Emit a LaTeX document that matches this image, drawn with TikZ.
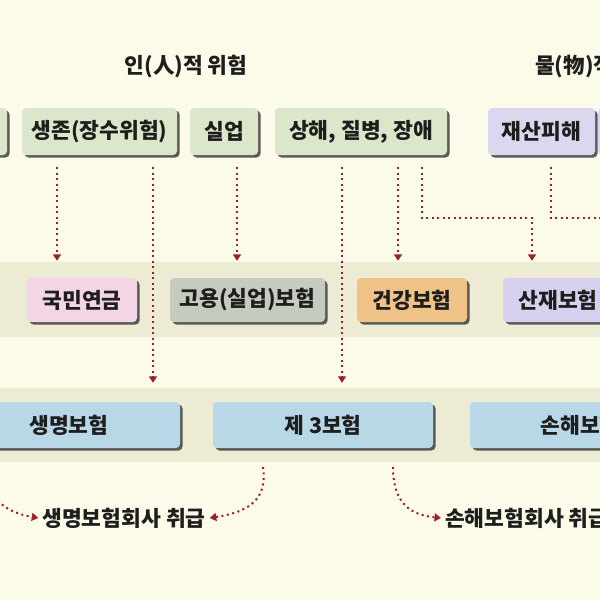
\documentclass[tikz,border=0pt]{standalone}
\usepackage{fontspec}
\newfontfamily\kr{Noto Sans CJK KR}
\usetikzlibrary{arrows.meta,shadows}
\definecolor{bgc}{HTML}{FCFBEA}
\definecolor{bandc}{HTML}{EDEBD4}
\definecolor{riskg}{HTML}{DCE6CA}
\definecolor{riskp}{HTML}{D9D8EE}
\definecolor{pinkc}{HTML}{F4D5E6}
\definecolor{grayc}{HTML}{C6CBBF}
\definecolor{orangec}{HTML}{EFC388}
\definecolor{purplec}{HTML}{D6D1EE}
\definecolor{bluec}{HTML}{B8D8E8}
\definecolor{arrred}{HTML}{9E1E2C}
\definecolor{txt}{HTML}{1E1E1E}
\definecolor{shadowc}{HTML}{4A4A48}
\begin{document}
\begin{tikzpicture}[x=1pt,y=-1pt,
  lbl/.style={text=txt, font=\kr\bfseries\fontsize{21.5}{22}\selectfont, inner sep=0pt},
  box/.style={lbl, rounded corners=4pt, minimum height=#1,
    drop shadow={shadow xshift=2.5pt,shadow yshift=-2.5pt,fill=shadowc,opacity=0.9}},
  box/.default=47pt,
  band/.style={fill=bandc, inner sep=0pt, minimum width=640pt},
  arr/.style={draw=arrred, line width=2pt, dash pattern=on 2pt off 3.5pt,
    -{Triangle[width=8pt,length=6.5pt]}},
  lin/.style={draw=arrred, line width=2pt, dash pattern=on 2pt off 3.5pt}
]
\useasboundingbox (0,0) rectangle (600,600);
\fill[bgc] (0,0) rectangle (600,600);
\clip (0,0) rectangle (600,600);

% titles
\node[lbl] (thuman) at (186,67) {인(人)적 위험};
\node[lbl, anchor=west] (tthing) at (535,67) {물(物)적 위험};

% bands
\node[band, minimum height=75pt] (band1) at (300,299.5) {};
\node[band, minimum height=74pt] (band2) at (300,425) {};

% top risk boxes
\node[box, fill=riskg, minimum width=106pt] (rleft) at (-46,131.5) {};
\node[box, fill=riskg, minimum width=155pt] (surv) at (99.5,131.5) {생존(장수위험)};
\node[box, fill=riskg, minimum width=68pt] (unemp) at (224,131.5) {실업};
\node[box, fill=riskg, minimum width=172pt] (injury) at (361,131.5) {상해, 질병, 장애};
\node[box, fill=riskp, minimum width=107pt] (prop) at (541.5,131.5) {재산피해};
\node[box, fill=riskp, minimum width=102pt] (rright) at (649,131.5) {};

% social insurance boxes
\node[box=44pt, fill=pinkc, minimum width=110pt] (pension) at (82,300) {국민연금};
\node[box=44pt, fill=grayc, minimum width=155pt] (employ) at (247.5,300) {고용(실업)보험};
\node[box=44pt, fill=orangec, minimum width=110pt] (health) at (412,300) {건강보험};
\node[box=44pt, fill=purplec, minimum width=110pt] (indus) at (558,300) {산재보험};

% private insurance boxes
\node[box=46pt, fill=bluec, minimum width=222pt] (life) at (69,425) {생명보험};
\node[box=46pt, fill=bluec, minimum width=220pt] (third) at (323,425) {제 3보험};
\node[box=46pt, fill=bluec, minimum width=220pt] (nonlife) at (580,425) {손해보험};

% bottom labels
\node[lbl] (lifeco) at (124,518) {생명보험회사 취급};
\node[lbl, anchor=west] (nonlifeco) at (445,518) {손해보험회사 취급};

% connector start points
\coordinate (s1) at ([xshift=-42.5pt]surv.south);
\coordinate (s2) at ([xshift=53.5pt]surv.south);
\coordinate (u1) at ([xshift=13pt]unemp.south);
\coordinate (i1) at ([xshift=-19pt]injury.south);
\coordinate (i2) at ([xshift=37pt]injury.south);
\coordinate (i3) at ([xshift=61pt]injury.south);
\coordinate (p1) at ([xshift=9.5pt]prop.south);
\coordinate (j1) at (422,218);
\coordinate (j2) at (532,218);
\coordinate (j3) at (551,218);
\coordinate (j4) at (610,218);

\draw[arr, shorten <=12pt, shorten >=1pt] (s1) -- (s1 |- band1.north);
\draw[arr, shorten <=12pt, shorten >=5pt] (s2) -- (s2 |- band2.north);
\draw[arr, shorten <=12pt, shorten >=1pt] (u1) -- (u1 |- band1.north);
\draw[arr, shorten <=12pt, shorten >=5pt] (i1) -- (i1 |- band2.north);
\draw[arr, shorten <=12pt, shorten >=1pt] (i2) -- (i2 |- band1.north);
\draw[arr, shorten <=12pt, shorten >=1pt] (i3) -- (j1) -- (j2) -- (j2 |- band1.north);
\draw[lin, shorten <=12pt] (p1) -- (j3) -- (j4);

% bottom curved connectors
\coordinate (l1) at (-15,465);
\coordinate (t1) at (263,467);
\coordinate (t2) at (393,467);
\draw[arr] (l1) .. controls (-12,500) and (5,512) .. ([xshift=-4pt]lifeco.west);
\draw[arr] (t1) .. controls (268,500) and (248,512) .. ([xshift=4pt]lifeco.east);
\draw[arr] (t2) .. controls (393,505) and (412,515) .. ([xshift=-4pt]nonlifeco.west);
\end{tikzpicture}
\end{document}
